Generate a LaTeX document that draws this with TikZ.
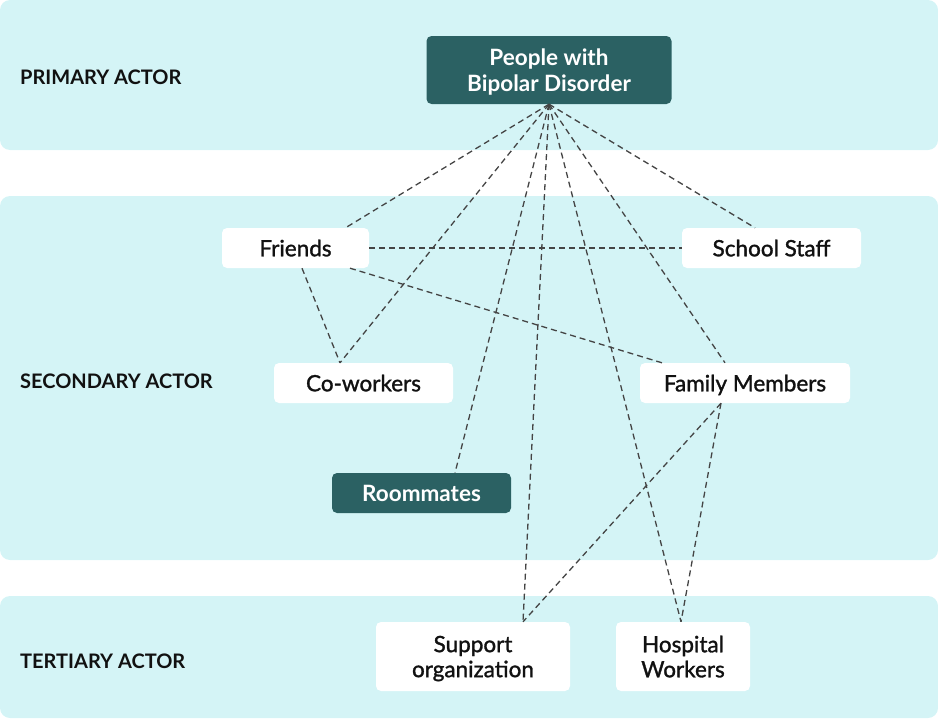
\documentclass[tikz,border=0pt]{standalone}
\usepackage{fontspec}
\setmainfont{Lato}
\newfontfamily\medfont{Lato}[RawFeature={embolden=1.3}]
\usetikzlibrary{calc}
\definecolor{bandc}{HTML}{D4F4F6}
\definecolor{tealc}{HTML}{2B6163}
\definecolor{linec}{HTML}{444444}
\definecolor{textc}{HTML}{111111}
\tikzset{
  band/.style={fill=bandc, rounded corners=10pt},
  lightbox/.style={fill=white, rounded corners=5pt, inner sep=0pt, align=center, text=textc,
    text depth=0pt, font=\fontsize{22.5}{25}\medfont},
  darkbox/.style={fill=tealc, rounded corners=5pt, inner sep=0pt, align=center, text=white,
    text depth=0pt, font=\fontsize{22.5}{26}\selectfont\bfseries},
  rowlabel/.style={anchor=west, inner sep=0pt, text=textc, font=\fontsize{20}{22}\selectfont\bfseries},
  link/.style={draw=linec, line width=1.3pt, dash pattern=on 6pt off 4pt}
}
\begin{document}
\begin{tikzpicture}[x=1pt, y=-1pt]
\useasboundingbox (0,0) rectangle (938,720);
% bands
\fill[band] (0,0) rectangle (938,150);
\fill[band] (0,196) rectangle (938,560);
\fill[band] (0,596) rectangle (938,718);
% row labels
\node[rowlabel] (lprim) at (20,77) {PRIMARY ACTOR};
\node[rowlabel] (lsec) at (20,381) {SECONDARY ACTOR};
\node[rowlabel] (lter) at (20,661) {TERTIARY ACTOR};
% nodes
\node[darkbox, minimum width=245pt, minimum height=68pt] (people) at (549,70) {People with\\Bipolar Disorder};
\node[lightbox, minimum width=147pt, minimum height=40pt] (friends) at (295.5,248) {Friends};
\node[lightbox, minimum width=179pt, minimum height=40pt] (school) at (771.5,248) {School Staff};
\node[lightbox, minimum width=179pt, minimum height=40pt] (cowork) at (363.5,383) {Co-workers};
\node[lightbox, minimum width=210pt, minimum height=40pt] (family) at (745,383) {Family Members};
\node[darkbox, minimum width=179pt, minimum height=40pt] (room) at (421.5,493) {Roommates};
\node[lightbox, minimum width=194pt, minimum height=69pt] (support) at (473,656.5) {Support\\organization};
\node[lightbox, minimum width=134pt, minimum height=69pt] (hosp) at (683,656.5) {Hospital\\Workers};
% connectors
\draw[link] (people.south) -- ($(friends.north)+(50,0)$);
\draw[link] (people.south) -- ($(cowork.north)+(-23.5,0)$);
\draw[link] (people.south) -- ($(school.north)+(-16.5,0)$);
\draw[link] (people.south) -- ($(family.north)+(-20,0)$);
\draw[link] (people.south) -- ($(room.north)+(33.5,0)$);
\draw[link] (people.south) -- ($(support.north)+(50,0)$);
\draw[link] (people.south) -- ($(hosp.north)+(-2,0)$);
\draw[link] (friends.east) -- (school.west);
\draw[link] ($(friends.south)+(6.5,0)$) -- ($(cowork.north)+(-23.5,0)$);
\draw[link] ($(friends.south)+(54.5,0)$) -- ($(family.north)+(-83,0)$);
\draw[link] ($(family.south)+(-24,0)$) -- ($(support.north)+(50,0)$);
\draw[link] ($(family.south)+(-24,0)$) -- ($(hosp.north)+(-2,0)$);
\end{tikzpicture}
\end{document}
